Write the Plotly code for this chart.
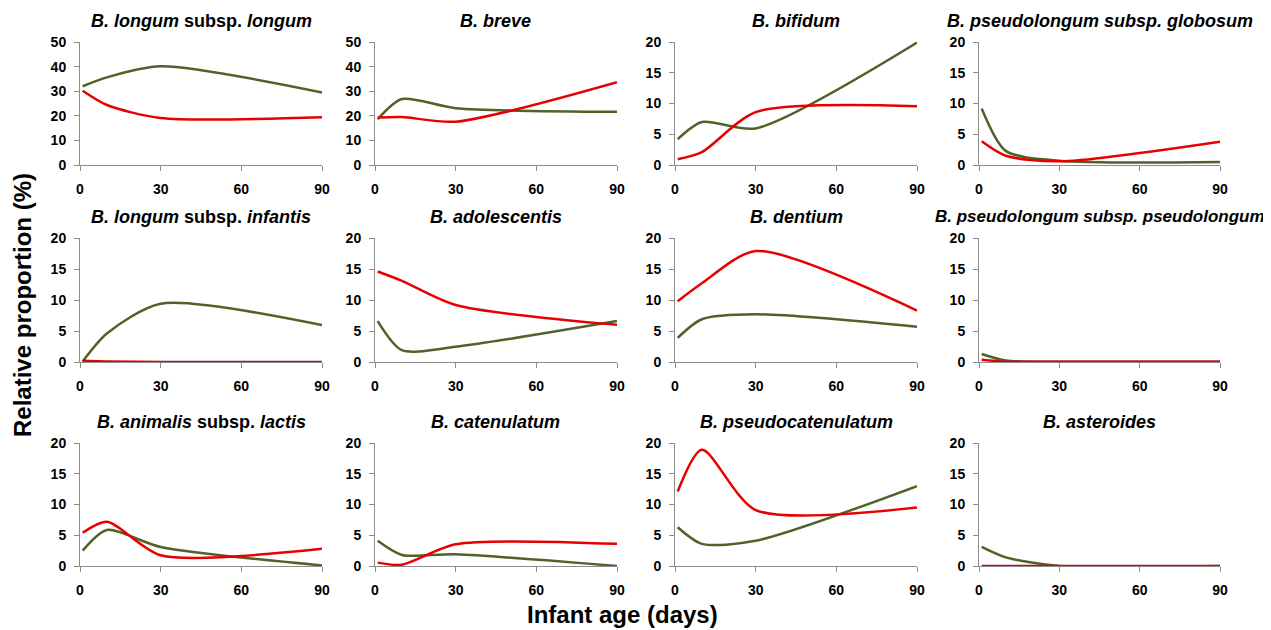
import plotly.graph_objects as go

# ---- data ----
days = [1, 10, 30, 90]
x_ticks = [0, 30, 60, 90]

titles = [
    "<i>B. longum</i> subsp. <i>longum</i>",
    "<i>B. breve</i>",
    "<i>B. bifidum</i>",
    "<i>B. pseudolongum subsp. globosum</i>",
    "<i>B. longum</i> subsp. <i>infantis</i>",
    "<i>B. adolescentis</i>",
    "<i>B. dentium</i>",
    "<i>B. pseudolongum subsp. pseudolongum</i>",
    "<i>B. animalis</i> subsp. <i>lactis</i>",
    "<i>B. catenulatum</i>",
    "<i>B. pseudocatenulatum</i>",
    "<i>B. asteroides</i>",
]
title_sizes = [18, 18, 18, 18, 18, 18, 18, 17, 18, 18, 18, 18]

longum_green = [32.0, 35.6, 40.1, 29.5]
longum_red = [30.2, 24.4, 19.1, 19.4]
breve_green = [18.6, 26.8, 23.1, 21.6]
breve_red = [19.3, 19.5, 17.6, 33.7]
bifidum_green = [4.2, 7.0, 5.95, 19.9]
bifidum_red = [0.95, 2.1, 8.6, 9.55]
globosum_green = [9.2, 2.3, 0.7, 0.5]
globosum_red = [3.85, 1.5, 0.6, 3.8]
infantis_green = [0.1, 4.6, 9.4, 5.95]
infantis_red = [0.2, 0.1, 0.02, 0.0]
adolescentis_green = [6.6, 1.9, 2.45, 6.6]
adolescentis_red = [14.6, 13.1, 9.2, 6.0]
dentium_green = [3.9, 6.9, 7.7, 5.7]
dentium_red = [9.8, 12.7, 17.9, 8.3]
pseudolongum_green = [1.3, 0.25, 0.05, 0.05]
pseudolongum_red = [0.35, 0.05, 0.05, 0.05]
lactis_green = [2.5, 5.85, 3.1, 0.1]
lactis_red = [5.4, 7.2, 1.75, 2.8]
catenulatum_green = [4.1, 1.8, 1.9, 0.0]
catenulatum_red = [0.55, 0.2, 3.55, 3.6]
pseudocat_green = [6.3, 3.6, 4.1, 13.0]
pseudocat_red = [12.1, 18.9, 9.1, 9.5]
asteroides_green = [3.1, 1.4, 0.02, 0.0]
asteroides_red = [0.0, 0.0, 0.0, 0.0]

green_series = [longum_green, breve_green, bifidum_green, globosum_green,
                infantis_green, adolescentis_green, dentium_green, pseudolongum_green,
                lactis_green, catenulatum_green, pseudocat_green, asteroides_green]
red_series = [longum_red, breve_red, bifidum_red, globosum_red,
              infantis_red, adolescentis_red, dentium_red, pseudolongum_red,
              lactis_red, catenulatum_red, pseudocat_red, asteroides_red]
y_max = [50, 50, 20, 20, 20, 20, 20, 20, 20, 20, 20, 20]
y_step = [10, 10, 5, 5, 5, 5, 5, 5, 5, 5, 5, 5]

# ---- layout geometry (page pixels; the page body adds an 8px offset) ----
OFF = 8
W, H = 1271 - OFF, 630 - OFF
col_px = [(80, 322), (375, 617), (675, 917), (979, 1220)]
row_px = [(42, 165), (238, 362), (443, 566)]


def px_x(p):
    return (p - OFF) / W


def px_y(p):
    return 1 - (p - OFF) / H


GREEN = "#4F6228"
RED = "#E80000"
AXIS = "#8C8C8C"
SMOOTH = 0.75

fig = go.Figure()
layout = dict(
    width=W, height=H,
    margin=dict(l=0, r=0, t=0, b=0, autoexpand=False),
    paper_bgcolor="white", plot_bgcolor="white",
    showlegend=False,
    font=dict(family="Liberation Sans, Arial", color="black"),
)
annotations = []

for i in range(12):
    r, c = divmod(i, 4)
    n = i + 1
    xa = "x" if n == 1 else f"x{n}"
    ya = "y" if n == 1 else f"y{n}"
    xkey = "xaxis" if n == 1 else f"xaxis{n}"
    ykey = "yaxis" if n == 1 else f"yaxis{n}"
    x0, x1 = col_px[c]
    yt, yb = row_px[r]
    layout[xkey] = dict(
        domain=[px_x(x0), px_x(x1)], anchor=ya, range=[0, 90],
        tickvals=x_ticks, showgrid=False, zeroline=False, automargin=False,
        showline=True, linecolor=AXIS, linewidth=1,
        ticks="outside", ticklen=5, tickcolor=AXIS,
        tickfont=dict(size=14, weight="bold", color="black"),
        ticklabelstandoff=6,
    )
    layout[ykey] = dict(
        domain=[px_y(yb), px_y(yt)], anchor=xa, range=[0, y_max[i]],
        dtick=y_step[i], tick0=0, showgrid=False, zeroline=False, automargin=False,
        showline=True, linecolor=AXIS, linewidth=1,
        ticks="outside", ticklen=5, tickcolor=AXIS,
        tickfont=dict(size=14, weight="bold", color="black"),
        ticklabelstandoff=5,
    )
    fig.add_trace(go.Scatter(
        x=days, y=green_series[i], xaxis=xa, yaxis=ya, mode="lines",
        line=dict(color=GREEN, width=2.5, shape="spline", smoothing=SMOOTH),
        cliponaxis=False, name="Series 1",
    ))
    fig.add_trace(go.Scatter(
        x=days, y=red_series[i], xaxis=xa, yaxis=ya, mode="lines",
        line=dict(color=RED, width=2.5, shape="spline", smoothing=SMOOTH),
        cliponaxis=False, name="Series 2",
    ))
    annotations.append(dict(
        text=f"<b>{titles[i]}</b>", xref="paper", yref="paper",
        x=px_x((x0 + x1) / 2), y=px_y(yt - 21),
        xanchor="center", yanchor="middle", showarrow=False,
        font=dict(size=title_sizes[i], color="black"),
    ))

annotations.append(dict(
    text="<b>Infant age (days)</b>", xref="paper", yref="paper",
    x=px_x(622), y=px_y(614), xanchor="center", yanchor="middle",
    showarrow=False, font=dict(size=24, color="black"),
))
annotations.append(dict(
    text="<b>Relative proportion (%)</b>", xref="paper", yref="paper",
    x=px_x(22), y=px_y(305), xanchor="center", yanchor="middle",
    textangle=-90, showarrow=False, font=dict(size=24, color="black"),
))
layout["annotations"] = annotations
fig.update_layout(**layout)
fig.write_html("out.html")
